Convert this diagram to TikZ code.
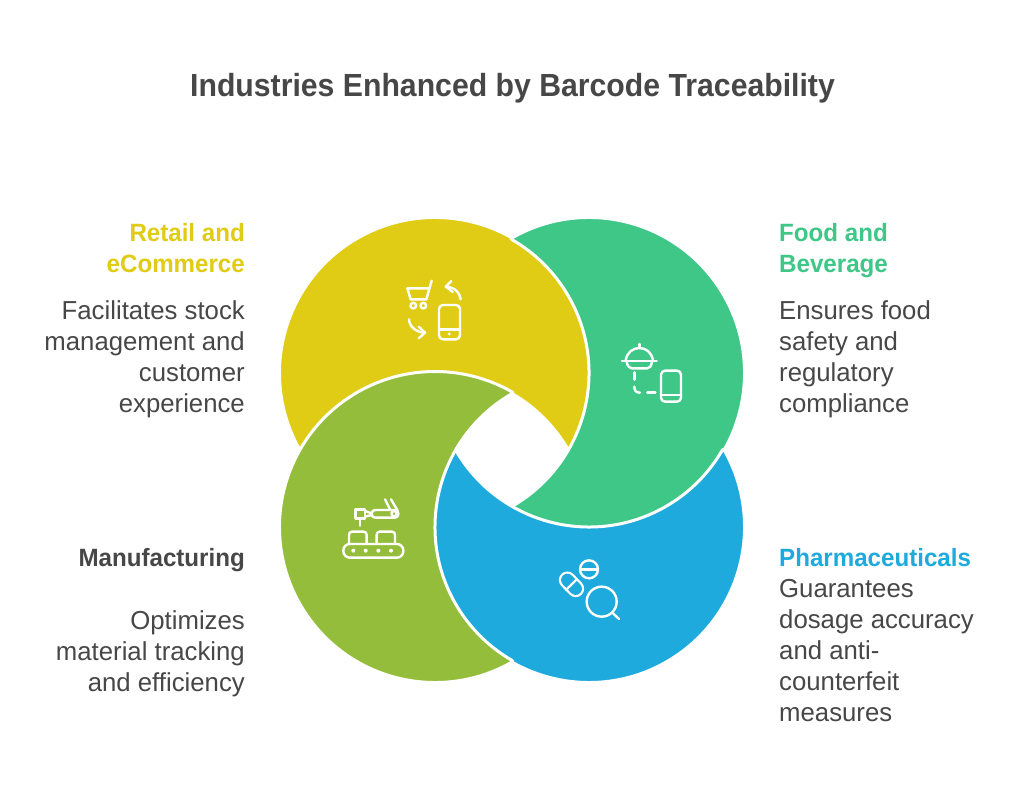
\documentclass[tikz,border=0pt]{standalone}
\usepackage{fontspec}
\setmainfont{Liberation Sans}[FakeStretch=0.99]
\newfontfamily\headfont{Liberation Sans}[FakeStretch=0.965]
\newfontfamily\titlefont{Liberation Sans}[FakeStretch=0.944]
\definecolor{cyellow}{HTML}{E0CC14}
\definecolor{cgreen}{HTML}{3EC787}
\definecolor{colive}{HTML}{93BD3A}
\definecolor{cblue}{HTML}{1EAADC}
\definecolor{ctext}{HTML}{474747}
\tikzset{
  petal/.style={draw=white,line width=3pt,line join=round},
  icon/.style={draw=white,line width=2.4pt,line cap=round,line join=round},
  dot/.style={fill=white,draw=none},
  zoomed/.style={x=0.33333pt,y=-0.33333pt},
  head/.style={font=\fontsize{25}{31}\headfont\selectfont\bfseries,inner sep=0pt},
  body/.style={font=\fontsize{26}{31}\selectfont,text=ctext,inner sep=0pt},
  leftside/.style={anchor=north east,align=right},
  rightside/.style={anchor=north west,align=left}
}
\begin{document}
\begin{tikzpicture}[x=1pt,y=1pt]
\useasboundingbox (0,0) rectangle (1024,791);
\fill[white] (0,0) rectangle (1024,791);
\node[font=\fontsize{32}{38}\titlefont\selectfont\bfseries,text=ctext,inner sep=0pt,anchor=base] (title) at (512.5,694.5) {Industries Enhanced by Barcode Traceability};
\coordinate (cy) at (435,418);
\coordinate (cg) at (589,418);
\coordinate (co) at (435,264);
\coordinate (cb) at (589,264);
% petals
\fill[cyellow,petal] ([shift={(210:155.5pt)}]cy) arc[start angle=210,end angle=-30,radius=155.5pt] -- ([shift={(30:154pt)}]co) arc[start angle=30,end angle=150,radius=154pt] -- cycle;
\fill[cgreen,petal] ([shift={(120:155.5pt)}]cg) arc[start angle=120,end angle=-120,radius=155.5pt] -- ([shift={(-60:154pt)}]cy) arc[start angle=-60,end angle=60,radius=154pt] -- cycle;
\fill[cblue,petal] ([shift={(30:155.5pt)}]cb) arc[start angle=30,end angle=-210,radius=155.5pt] -- ([shift={(210:154pt)}]cg) arc[start angle=210,end angle=330,radius=154pt] -- cycle;
\fill[colive,petal] ([shift={(-60:155.5pt)}]co) arc[start angle=-60,end angle=-300,radius=155.5pt] -- ([shift={(120:154pt)}]cb) arc[start angle=120,end angle=240,radius=154pt] -- cycle;
% labels
\node[head,leftside,text=cyellow] (retailh) at (245,567.5) {Retail and\\eCommerce};
\node[body,leftside] (retailb) at (245,490.5) {Facilitates stock\\management and\\customer\\experience};
\node[head,rightside,text=cgreen] (foodh) at (779,567.5) {Food and\\Beverage};
\node[body,rightside] (foodb) at (779,490.5) {Ensures food\\safety and\\regulatory\\compliance};
\node[head,leftside,text=ctext] (manh) at (245,242.5) {Manufacturing};
\node[body,leftside] (manb) at (245,180.5) {Optimizes\\material tracking\\and efficiency};
\node[head,rightside,text=cblue] (phah) at (779,242.5) {Pharmaceuticals};
\node[body,rightside] (phab) at (779,211.5) {Guarantees\\dosage accuracy\\and anti-\\counterfeit\\measures};
% cart icon
\begin{scope}[shift={(390,531)},zoomed]
\draw[icon] (125,62) -- (109,118) -- (62,118) -- (52,85) -- (118,85);
\draw[icon] (70,137) circle[radius=2.8pt] (100,137) circle[radius=2.8pt];
\draw[icon] (212,118) .. controls (210,98) and (195,82) .. (168,80);
\draw[icon] (184,63) -- (167,80) -- (188,96);
\draw[icon] (57,178) .. controls (58,200) and (78,217) .. (104,218);
\draw[icon] (86,200) -- (105,218) -- (86,235);
\draw[icon,rounded corners=4pt] (147,135) rectangle (210,238);
\draw[icon] (147,208) -- (210,208);
\fill[dot] (178,222) circle[radius=1.6pt];
\end{scope}
% food icon
\begin{scope}[shift={(600,461)},zoomed]
\draw[icon] (118,42) -- (118,54);
\draw[icon] (77,92) .. controls (80,68) and (98,54) .. (118,54) .. controls (138,54) and (156,68) .. (159,92);
\draw[icon] (66,93) -- (170,93);
\draw[icon] (80,95) .. controls (82,108) and (88,115) .. (95,115) -- (142,115) .. controls (149,115) and (154,108) .. (156,95);
\draw[icon] (103,127) -- (103,149);
\draw[icon] (103,170) .. controls (103,182) and (108,188) .. (120,188);
\draw[icon] (142,188) -- (166,188);
\draw[icon,rounded corners=4pt] (183,122) rectangle (243,215);
\draw[icon] (183,195) -- (243,195);
\end{scope}
% manufacturing icon
\begin{scope}[shift={(325,301)},zoomed]
\draw[icon,rounded corners=6.5pt] (55,162) rectangle (235,203);
\foreach \px in {85,122,160,198} \fill[dot] (\px,182) circle[radius=2pt];
\draw[icon,rounded corners=3pt] (72,162) -- (72,125) -- (125,125) -- (125,162);
\draw[icon,rounded corners=3pt] (155,162) -- (155,125) -- (210,125) -- (210,162);
\draw[icon] (92,58) rectangle (120,85);
\draw[icon] (105,85) -- (105,107);
\draw[icon] (120,63) -- (140,70) (120,80) -- (140,75);
\draw[icon,rounded corners=3.5pt] (140,60) -- (220,60) -- (220,83) -- (140,83) -- cycle;
\draw[icon] (207,71) circle[radius=2.6pt];
\draw[icon] (180,28) -- (195,58) (198,28) -- (218,62);
\end{scope}
% pharma icon
\begin{scope}[shift={(545,241)},zoomed]
\draw[white,line width=17pt,line cap=round] (67,90) -- (92,116);
\draw[cblue,line width=12.5pt,line cap=round] (67,90) -- (92,116);
\draw[icon] (63,120) -- (95,88);
\draw[icon] (132,58) circle[radius=9pt];
\draw[icon] (110,58) -- (155,58);
\draw[icon] (170,155) circle[radius=15pt];
\draw[icon] (204,190) -- (222,207);
\end{scope}
\end{tikzpicture}
\end{document}
